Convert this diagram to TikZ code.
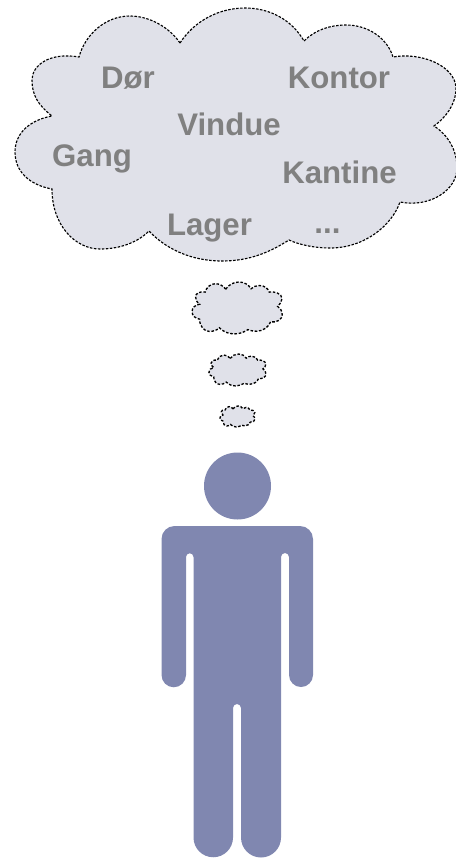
\documentclass[tikz,border=0pt]{standalone}
\usepackage{fontspec}
\setmainfont{Liberation Sans}
\definecolor{cloudfill}{HTML}{E0E1E9}
\definecolor{personfill}{HTML}{8087B0}
\definecolor{wordgray}{HTML}{808080}
\newcommand{\cloudoutline}{
  (180,-43) .. controls (195,-20) and (220,-8) .. (245,-8) .. controls (270,-8) and (292,-20) .. (304,-41)
  .. controls (315,-30) and (330,-25) .. (346,-25) .. controls (370,-25) and (388,-40) .. (393,-57)
  .. controls (420,-52) and (455,-65) .. (456,-88) .. controls (456,-105) and (445,-118) .. (434,-126)
  .. controls (448,-135) and (457,-150) .. (457,-168) .. controls (457,-190) and (430,-208) .. (400,-202)
  .. controls (392,-225) and (365,-248) .. (330,-248) .. controls (315,-248) and (300,-245) .. (289,-240)
  .. controls (270,-252) and (250,-261) .. (222,-261) .. controls (190,-261) and (165,-248) .. (149,-231)
  .. controls (135,-245) and (115,-249) .. (100,-249) .. controls (75,-249) and (52,-225) .. (52,-189)
  .. controls (30,-185) and (15,-172) .. (15,-152) .. controls (15,-133) and (30,-120) .. (52,-116)
  .. controls (38,-105) and (32,-95) .. (32,-80) .. controls (32,-65) and (50,-52) .. (79,-57)
  .. controls (85,-35) and (105,-16) .. (130,-16) .. controls (150,-16) and (170,-28) .. (180,-43) -- cycle}
\tikzset{
  cloudshape/.style={fill=cloudfill,draw=black,line width=.85pt,dash pattern=on 1.9pt off 1.1pt},
  smallcloud/.style={fill=cloudfill,draw=black,line width=1pt,dash pattern=on 1.9pt off 1.3pt},
  word/.style={anchor=base,text=wordgray,font=\fontsize{23.4}{26}\selectfont\bfseries,inner sep=0pt}
}
\begin{document}
\begin{tikzpicture}[x=.75pt,y=.75pt]
\useasboundingbox (0,-858) rectangle (456,0);
\draw[cloudshape] \cloudoutline;
\begin{scope}[shift={(189,-280.4)},xscale=.204,yscale=.205]
\draw[smallcloud] \cloudoutline;
\end{scope}
\begin{scope}[shift={(207,-353)},xscale=.129,yscale=.126]
\draw[smallcloud] \cloudoutline;
\end{scope}
\begin{scope}[shift={(218.8,-405.3)},xscale=.079,yscale=.083]
\draw[smallcloud] \cloudoutline;
\end{scope}
\node[word] (dor) at (128,-88) {Dør};
\node[word] (kontor) at (339,-88) {Kontor};
\node[word] (vindue) at (229,-135) {Vindue};
\node[word] (gang) at (92,-166) {Gang};
\node[word] (kantine) at (339.5,-183) {Kantine};
\node[word] (lager) at (209.5,-235) {Lager};
\node[word] (more) at (327.5,-233) {...};
\fill[personfill] (237.5,-486) circle (33.5);
\fill[personfill] (161.5,-539) arc (180:90:13) -- (300,-526) arc (90:0:13)
  -- (313,-675) arc (0:-180:12) -- (289,-557) arc (0:180:4) -- (281,-837.5)
  arc (0:-180:20) -- (241,-708) arc (0:180:4) -- (233,-837.5) arc (0:-180:19.75)
  -- (193.5,-557) arc (0:180:3.75) -- (186,-675) arc (0:-180:12.25) -- cycle;
\end{tikzpicture}
\end{document}
